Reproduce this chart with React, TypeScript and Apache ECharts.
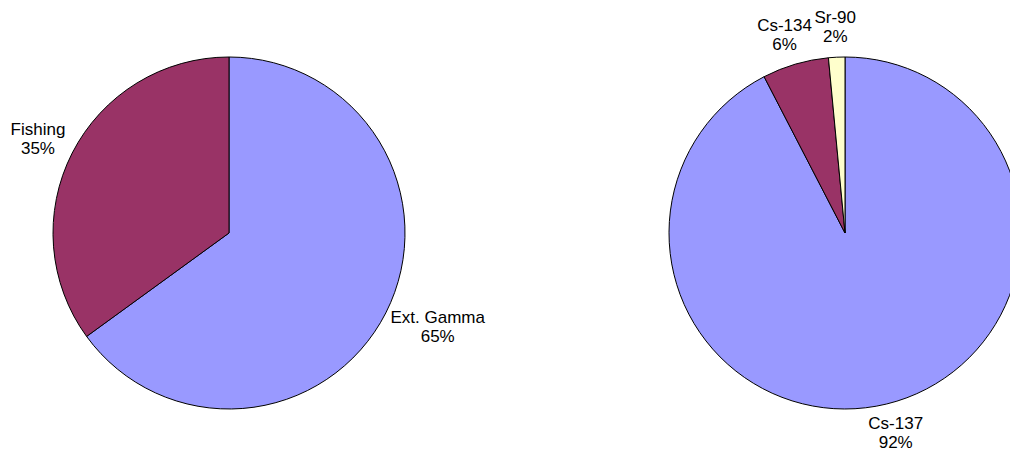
import React, { useEffect, useRef } from "react";
import * as echarts from "echarts";

const leftNames = ["Ext. Gamma", "Fishing"];
const leftValues = [65, 35];
const rightNames = ["Cs-137", "Cs-134", "Sr-90"];
const rightValues = [92.4, 6.1, 1.5];
const sliceColors = ["#9999FF", "#993366", "#FFFFCC"];

const R = 176;
const LEFT_C = [229, 233];
const RIGHT_C = [845, 233];

function makeLayout(values: number[], cx: number, cy: number, r: number) {
  const total = values.reduce((a, b) => a + b, 0);
  return (p: any) => {
    const idx = p.dataIndex;
    let before = 0;
    for (let i = 0; i < idx; i++) before += values[i];
    const mid = ((before + values[idx] / 2) / total) * Math.PI * 2;
    const dx = Math.sin(mid);
    const dy = -Math.cos(mid);
    const w = p.labelRect.width;
    const h = p.labelRect.height;
    const gap = 11;
    return {
      x: cx + dx * (r + gap) + (dx * w) / 2,
      y: cy + dy * (r + gap) + (dy * h) / 2,
      align: "center",
      verticalAlign: "middle",
    };
  };
}

function pieSeries(names: string[], values: number[], c: number[]) {
  return {
    type: "pie",
    center: c,
    radius: R,
    startAngle: 90,
    clockwise: true,
    avoidLabelOverlap: false,
    silent: true,
    data: names.map((n, i) => ({
      name: n,
      value: values[i],
      itemStyle: { color: sliceColors[i] },
    })),
    itemStyle: { borderColor: "#000000", borderWidth: 1 },
    label: {
      show: true,
      position: "outside",
      formatter: (p: any) => `${p.name}\n${Math.round(p.percent)}%`,
      color: "#000000",
      fontFamily: "Liberation Sans, Arial, sans-serif",
      fontSize: 17,
      lineHeight: 19,
      align: "center",
    },
    labelLine: { show: false },
    labelLayout: makeLayout(values, c[0], c[1], R),
  };
}

export default function App() {
  const ref = useRef<HTMLDivElement>(null);
  useEffect(() => {
    if (!ref.current) return;
    const chart = echarts.init(ref.current, undefined, { renderer: "svg" });
    chart.setOption({
      animation: false,
      backgroundColor: "#ffffff",
      series: [
        pieSeries(leftNames, leftValues, LEFT_C),
        pieSeries(rightNames, rightValues, RIGHT_C),
      ],
    });
    return () => chart.dispose();
  }, []);
  return (
    <div
      ref={ref}
      style={{ position: "absolute", left: 0, top: 0, width: 1010, height: 453 }}
    />
  );
}
